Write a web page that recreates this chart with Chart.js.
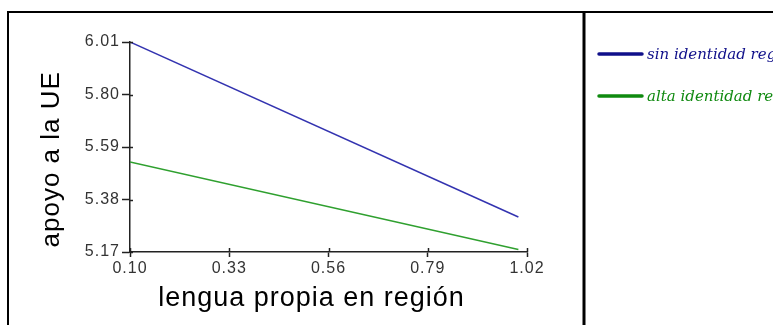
<!DOCTYPE html>
<html>
<head>
<meta charset="utf-8">
<script src="https://cdn.jsdelivr.net/npm/chart.js@4"></script>
<style>
  html, body { margin: 0; padding: 0; background: #fff; }
  #c { display: block; }
</style>
</head>
<body>
<canvas id="c" width="773" height="325"></canvas>
<script>
// datos
const lenguaX = [0.10, 1.00];
const sinIdentidad = [6.01, 5.31];
const altaIdentidad = [5.53, 5.18];
const xTicks = [0.10, 0.33, 0.56, 0.79, 1.02];
const yTicks = [5.17, 5.38, 5.59, 5.80, 6.01];
const serieNombres = ['sin identidad regional', 'alta identidad regional'];

const toPoints = ys => lenguaX.map((x, i) => ({ x: x, y: ys[i] }));

// marco, separador y leyenda
const marco = {
    id: 'marco',
    beforeDraw(chart) {
        const ctx = chart.ctx;
        ctx.letterSpacing = '1px';
        ctx.save();
        ctx.fillStyle = '#fff';
        ctx.fillRect(0, 0, chart.width, chart.height);
        ctx.strokeStyle = '#000';
        ctx.lineWidth = 2;
        ctx.beginPath();
        ctx.moveTo(8, chart.height + 5);
        ctx.lineTo(8, 12);
        ctx.lineTo(chart.width + 5, 12);
        ctx.stroke();
        ctx.lineWidth = 3;
        ctx.beginPath();
        ctx.moveTo(584, 12);
        ctx.lineTo(584, chart.height + 5);
        ctx.stroke();
        ctx.restore();
    },
    afterDraw(chart) {
        const ctx = chart.ctx;
        ctx.save();
        // marcas de tick hacia dentro del área
        ctx.strokeStyle = '#222';
        ctx.lineWidth = 1.5;
        const xs = chart.scales.x, ys = chart.scales.y;
        xs.ticks.forEach(t => {
            const px = Math.round(xs.getPixelForValue(t.value)) + 0.5;
            ctx.beginPath();
            ctx.moveTo(px, ys.bottom);
            ctx.lineTo(px, ys.bottom - 4);
            ctx.stroke();
        });
        ys.ticks.forEach(t => {
            const py = Math.round(ys.getPixelForValue(t.value)) + 0.5;
            ctx.beginPath();
            ctx.moveTo(xs.left, py);
            ctx.lineTo(xs.left + 3, py);
            ctx.stroke();
        });
        // leyenda
        ctx.letterSpacing = '0px';
        ctx.font = 'italic 15px "DejaVu Serif"';
        ctx.textBaseline = 'alphabetic';
        ctx.lineCap = 'round';
        chart.data.datasets.forEach((ds, i) => {
            const y = 54 + i * 42;
            ctx.strokeStyle = ds.legendColor;
            ctx.lineWidth = 3.5;
            ctx.beginPath();
            ctx.moveTo(599, y);
            ctx.lineTo(642, y);
            ctx.stroke();
            ctx.fillStyle = ds.legendColor;
            ctx.fillText(ds.label, 647, y + 5);
        });
        ctx.restore();
    }
};

new Chart(document.getElementById('c'), {
    type: 'line',
    data: {
        datasets: [{
            label: serieNombres[0],
            data: toPoints(sinIdentidad),
            borderColor: '#3333b0',
            legendColor: '#10108a',
            borderWidth: 1.5,
            pointRadius: 0,
            tension: 0
        }, {
            label: serieNombres[1],
            data: toPoints(altaIdentidad),
            borderColor: '#2fa02f',
            legendColor: '#108a10',
            borderWidth: 1.5,
            pointRadius: 0,
            tension: 0
        }]
    },
    options: {
        responsive: false,
        animation: false,
        layout: { padding: { left: 0, top: 42, right: 246, bottom: 0 } },
        plugins: { legend: { display: false }, tooltip: { enabled: false } },
        scales: {
            x: {
                type: 'linear',
                min: 0.10,
                max: 1.02,
                afterBuildTicks: s => { s.ticks = xTicks.map(v => ({ value: v })); },
                afterFit: s => { s.height = 73; },
                border: { color: '#222', width: 1.5 },
                grid: { drawOnChartArea: false, drawTicks: true, tickLength: 5, tickWidth: 1.5, tickColor: '#222' },
                ticks: {
                    color: '#333',
                    padding: 2,
                    maxRotation: 0,
                    autoSkip: false,
                    font: { family: 'Liberation Sans', size: 16 },
                    callback: v => Number(v).toFixed(2)
                },
                title: {
                    display: true,
                    // espacios finales para desplazar el título a la izquierda
                    text: 'lengua propia en región    ',
                    color: '#000',
                    font: { family: 'Liberation Sans', size: 27 },
                    padding: { top: 0, bottom: 10 }
                }
            },
            y: {
                min: 5.17,
                max: 6.01,
                afterBuildTicks: s => { s.ticks = yTicks.map(v => ({ value: v })); },
                afterFit: s => { s.width = 130; },
                border: { color: '#222', width: 1.5 },
                grid: { drawOnChartArea: false, drawTicks: true, tickLength: 8, tickWidth: 1.5, tickColor: '#222' },
                ticks: {
                    color: '#333',
                    padding: 2,
                    autoSkip: false,
                    font: { family: 'Liberation Sans', size: 16 },
                    callback: v => Number(v).toFixed(2)
                },
                title: {
                    display: true,
                    text: 'apoyo a la UE   ',
                    color: '#000',
                    font: { family: 'Liberation Sans', size: 26 },
                    padding: { top: 36, bottom: 0 }
                }
            }
        }
    },
    plugins: [marco]
});
</script>
</body>
</html>
